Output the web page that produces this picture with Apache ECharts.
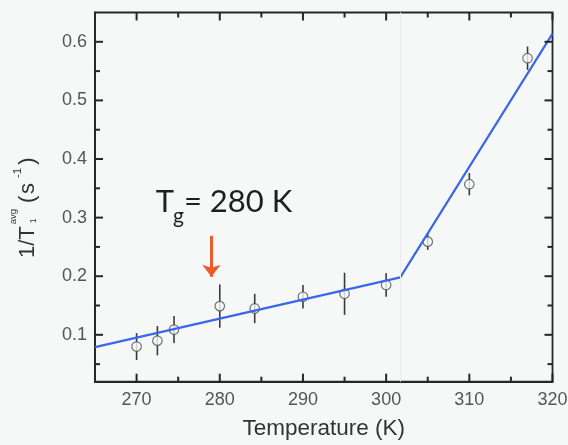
<!DOCTYPE html>
<html>
<head>
<meta charset="utf-8">
<script src="https://cdn.jsdelivr.net/npm/echarts@6/dist/echarts.min.js"></script>
<style>
  html, body { margin: 0; padding: 0; background: #f6f8f8; }
  #chart { width: 568px; height: 445px; }
</style>
</head>
<body>
<div id="chart"></div>
<script>
// Measured relaxation rate vs temperature, with error bars
const temperature = [270, 272.5, 274.5, 280, 284.2, 290, 295, 300, 305, 310, 317];
const rate        = [0.080, 0.090, 0.109, 0.149, 0.145, 0.165, 0.170, 0.185, 0.259, 0.357, 0.572];
const rateErr     = [0.023, 0.025, 0.023, 0.037, 0.025, 0.020, 0.036, 0.020, 0.014, 0.019, 0.020];

// Two-segment linear fit (break near 301.7 K)
const fitT    = [265, 301.7, 320];
const fitRate = [0.079, 0.198, 0.614];

// Axis ranges, labelled values and tick positions
const xRange = [265, 320];
const yRange = [0.02, 0.65];
const xLabels = [270, 280, 290, 300, 310, 320];
const yLabels = [0.1, 0.2, 0.3, 0.4, 0.5, 0.6];
const xMinorTicks = [275, 285, 295, 305, 315];
const yMinorTicks = [0.05, 0.15, 0.25, 0.35, 0.45, 0.55];

// Glass-transition marker
const tgLabel = { main: 'T', sub: 'g', rest: '= 280 K' };
const tgArrowT = 279;
const tgArrowY = [0.269, 0.199];
const tgLabelAt = [272.3, 0.308];

const AXIS = '#262626';
const LABEL_FONT = 'Liberation Sans';
const TICK_LEN = { major: 8, minor: 5 };

const chart = echarts.init(document.getElementById('chart'), null, { renderer: 'canvas' });

chart.setOption({
  animation: false,
  backgroundColor: '#f6f8f8',
  grid: { left: 95, right: 15.5, top: 12.5, bottom: 63.3, outerBoundsMode: 'none',
          show: true, borderColor: AXIS, borderWidth: 1.8, backgroundColor: 'transparent' },
  xAxis: {
    type: 'value', min: xRange[0], max: xRange[1],
    splitLine: { show: false },
    axisLine: { show: true, onZero: false, lineStyle: { color: AXIS, width: 1.8 } },
    axisTick: { show: false },
    axisLabel: { show: true, customValues: xLabels, fontSize: 18, color: '#555',
                 fontFamily: LABEL_FONT, margin: 9 },
    name: 'Temperature (K)',
    nameLocation: 'middle',
    nameGap: 36,
    nameTextStyle: { fontSize: 22.5, color: '#333', fontFamily: LABEL_FONT }
  },
  yAxis: {
    type: 'value', min: yRange[0], max: yRange[1],
    splitLine: { show: false },
    axisLine: { show: true, onZero: false, lineStyle: { color: AXIS, width: 1.8 } },
    axisTick: { show: false },
    axisLabel: { show: true, customValues: yLabels, fontSize: 18, color: '#555',
                 fontFamily: LABEL_FONT, margin: 8, formatter: v => v.toFixed(1) }
  },
  series: [
    {
      type: 'custom',
      z: 1,
      data: temperature.map((t, i) => [t, rate[i], rateErr[i]]),
      encode: { x: 0, y: 1 },
      renderItem(params, api) {
        const x = api.value(0), y = api.value(1), e = api.value(2);
        const top = api.coord([x, y + e]);
        const bot = api.coord([x, y - e]);
        return { type: 'line',
                 shape: { x1: top[0], y1: top[1], x2: bot[0], y2: bot[1] },
                 style: { stroke: '#3a3a3a', lineWidth: 1.6 } };
      }
    },
    {
      type: 'scatter',
      z: 2,
      symbol: 'circle',
      symbolSize: 9.5,
      data: temperature.map((t, i) => [t, rate[i]]),
      itemStyle: { color: '#f8fafa', borderColor: '#505050', borderWidth: 1.2 },
      markLine: {
        silent: true,
        animation: false,
        label: { show: false },
        lineStyle: { color: '#f05a2a', width: 3, type: 'solid' },
        data: [[
          { coord: [tgArrowT, tgArrowY[0]], symbol: 'none' },
          { coord: [tgArrowT, tgArrowY[1]], symbol: 'arrow', symbolSize: [14, 12] }
        ]]
      }
    },
    {
      type: 'line',
      z: 3,
      symbol: 'none',
      data: fitT.map((t, i) => [t, fitRate[i]]),
      lineStyle: { color: '#3a66ea', width: 2.2 },
      markLine: {
        silent: true,
        symbol: 'none',
        label: { show: false },
        lineStyle: { color: '#e8ecec', width: 1, type: 'solid' },
        data: [{ xAxis: fitT[1] }]
      }
    }
  ]
});

const toPx = (x, y) => chart.convertToPixel({ xAxisIndex: 0, yAxisIndex: 0 }, [x, y]);

// Inward ticks on all four sides of the frame
const ticks = [];
function tickLine(x1, y1, x2, y2) {
  ticks.push({ type: 'line', z: 50, silent: true,
               shape: { x1: x1, y1: y1, x2: x2, y2: y2 },
               style: { stroke: AXIS, lineWidth: 2 } });
}
const lo = toPx(xRange[0], yRange[0]);
const hi = toPx(xRange[1], yRange[1]);
[[xLabels, TICK_LEN.major], [xMinorTicks, TICK_LEN.minor]].forEach(([vals, len]) => {
  vals.forEach(v => {
    const px = toPx(v, yRange[0])[0];
    tickLine(px, lo[1], px, lo[1] - len);
    tickLine(px, hi[1], px, hi[1] + len);
  });
});
[[yLabels, TICK_LEN.major], [yMinorTicks, TICK_LEN.minor]].forEach(([vals, len]) => {
  vals.forEach(v => {
    const py = toPx(xRange[0], v)[1];
    tickLine(lo[0], py, lo[0] + len, py);
    tickLine(hi[0], py, hi[0] - len, py);
  });
});

// Text measuring for hand-set sub/superscripts
const mctx = document.createElement('canvas').getContext('2d');
function textWidth(text, size, family) {
  mctx.font = size + 'px "' + family + '"';
  return mctx.measureText(text).width;
}
function txt(text, x, baseline, size, family, color) {
  return { type: 'text', x: x, y: baseline - 0.34 * size,
           style: { text: text, fontSize: size, fontFamily: family, fill: color,
                    align: 'left', verticalAlign: 'middle' } };
}

// Rotated y-axis title: 1/T1^avg (s^-1)
const yt = [];
{
  const fam = LABEL_FONT, c = '#333', fs = 22, small = 9.5;
  let x = 0;
  yt.push(txt('1/T', x, 0, fs, fam, c));
  x += textWidth('1/T', fs, fam) + 2;
  yt.push(txt('1', x + 1, 2, small - 1, fam, c));
  yt.push(txt('avg', x, -18, small, fam, c));
  x += textWidth('avg', small, fam) + 6;
  yt.push(txt('(', x, 0, fs, fam, c));
  x += textWidth('(', fs, fam) + 1.5;
  yt.push(txt('s', x, 0, fs, fam, c));
  x += textWidth('s', fs, fam) + 5;
  yt.push(txt('-1', x, -13, small + 2, fam, c));
  x += textWidth('-1', small + 2, fam) + 3;
  yt.push(txt(')', x, 0, fs, fam, c));
}

// Tg annotation placed in data coordinates
const tgPos = toPx(tgLabelAt[0], tgLabelAt[1]);
const tg = [];
{
  const fam = 'Lato', c = '#1e1e1e', fs = 31, sfs = 21;
  let x = 0;
  tg.push(txt(tgLabel.main, x, 0, fs, fam, c));
  x += textWidth(tgLabel.main, fs, fam) - 1;
  tg.push(txt(tgLabel.sub, x, 10, sfs, fam, c));
  x += textWidth(tgLabel.sub, sfs, fam);
  tg.push(txt(tgLabel.rest, x, 0, fs, fam, c));
}

chart.setOption({
  graphic: [
    { type: 'group', children: ticks },
    { type: 'group', x: 35, y: 258, rotation: Math.PI / 2, children: yt },
    { type: 'group', x: tgPos[0], y: tgPos[1], children: tg }
  ]
});
</script>
</body>
</html>
